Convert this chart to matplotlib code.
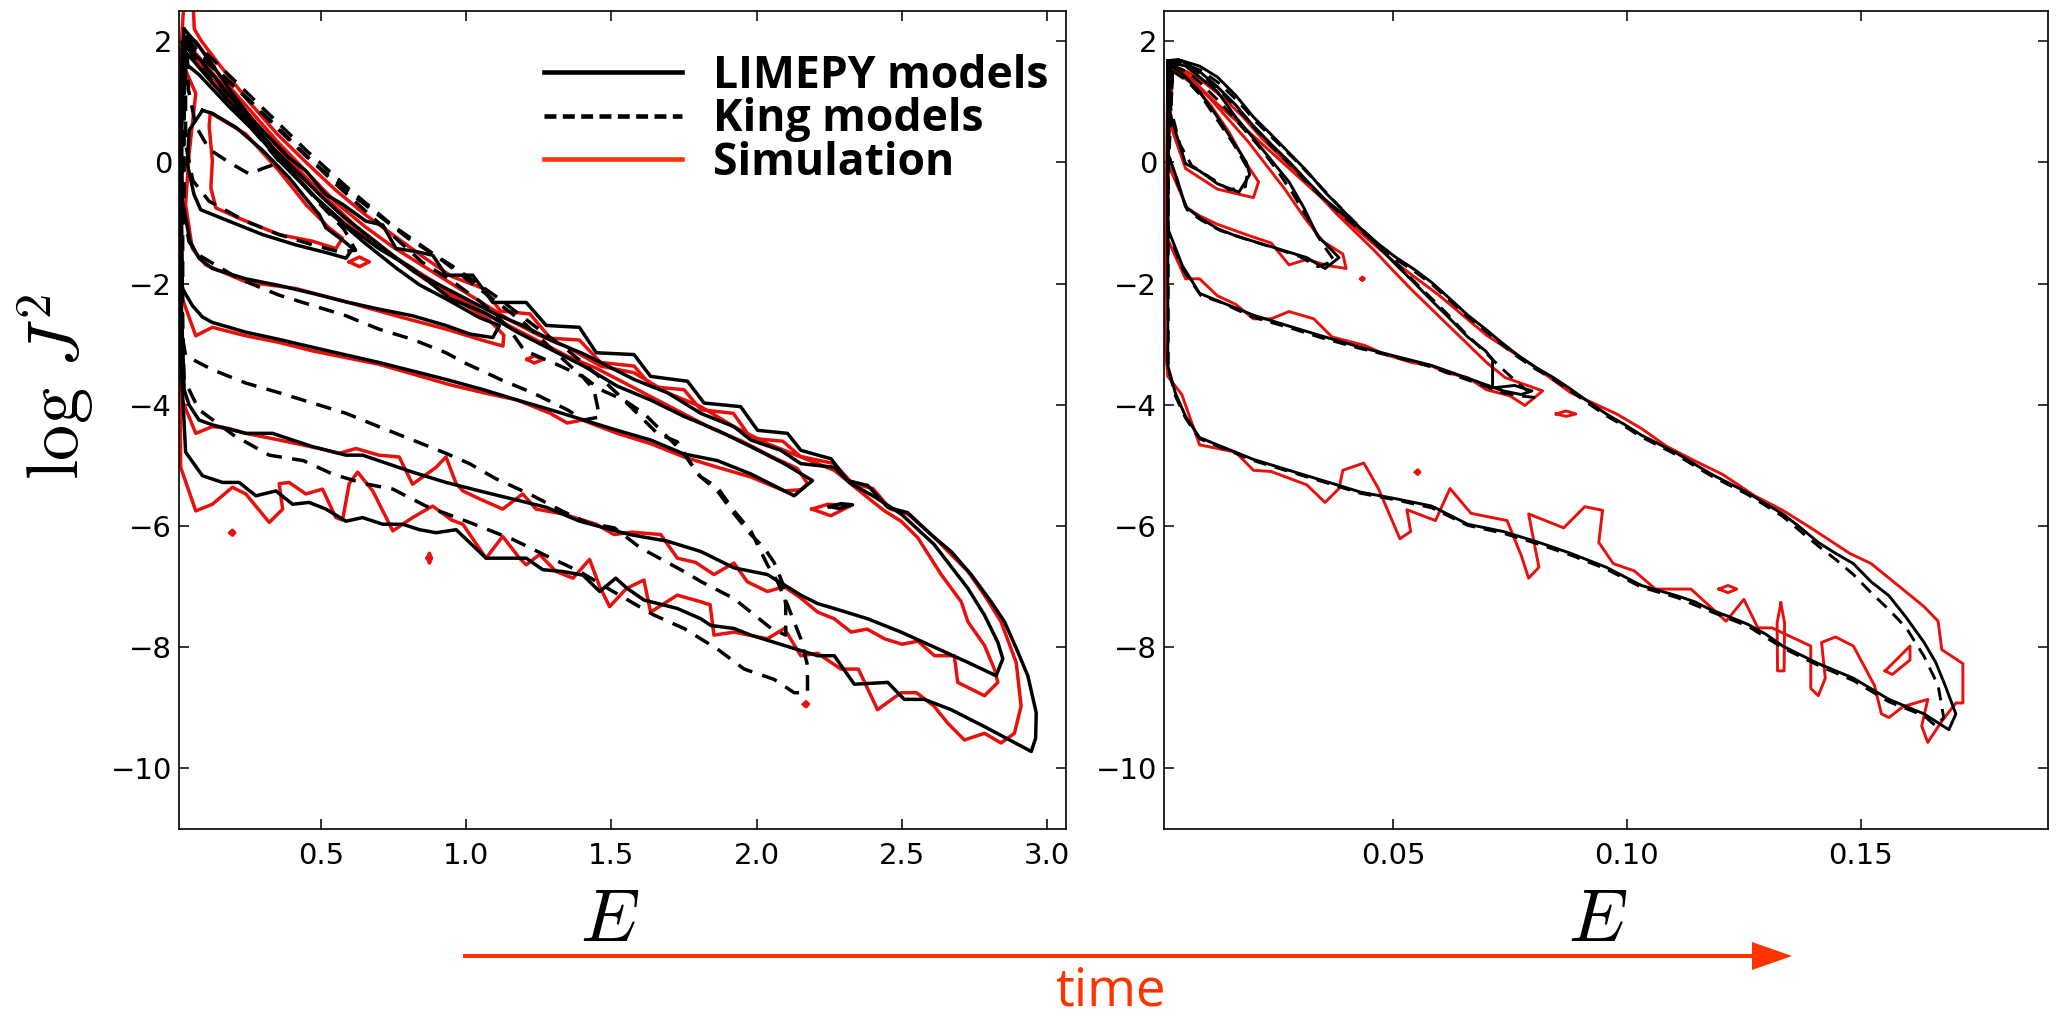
import matplotlib
matplotlib.use("Agg")
import matplotlib.pyplot as plt
from matplotlib.lines import Line2D
from matplotlib.patches import FancyArrow
from matplotlib.font_manager import FontProperties

plt.rcParams['mathtext.fontset'] = 'cm'
plt.rcParams['font.family'] = 'DejaVu Sans'

# === LEFT PANEL (early time) : contours in (E, log J^2) ===

# LIMEPY models (black solid), innermost to outermost
lim_l1 = [(0.093, 0.86), (0.127, 0.81), (0.208, 0.58), (0.30, 0.20), (0.391, -0.25), (0.45, -0.60),
          (0.495, -0.86), (0.518, -1.08), (0.58, -1.30), (0.61, -1.42), (0.587, -1.58), (0.529, -1.50),
          (0.414, -1.36), (0.30, -1.19), (0.185, -0.97), (0.087, -0.78), (0.064, -0.53), (0.041, -0.03),
          (0.047, 0.53), (0.093, 0.86)]
lim_l2 = [(0.03, 1.65), (0.081, 1.45), (0.185, 0.92), (0.30, 0.38), (0.414, -0.22), (0.529, -0.82),
          (0.644, -1.30), (0.759, -1.74), (0.84, -2.02), (0.931, -2.25), (1.046, -2.56), (1.115, -2.69),
          (1.092, -2.89), (1.012, -2.83), (0.931, -2.69), (0.816, -2.53), (0.70, -2.42), (0.587, -2.30),
          (0.472, -2.16), (0.357, -2.03), (0.242, -1.92), (0.127, -1.75), (0.081, -1.58), (0.05, -1.30),
          (0.024, -0.64), (0.02, 0.50), (0.03, 1.65)]
lim_l3 = [(0.024, 1.86), (0.058, 1.70), (0.127, 1.31), (0.242, 0.70), (0.357, 0.03), (0.472, -0.53),
          (0.587, -1.03), (0.70, -1.42), (0.816, -1.75), (0.946, -2.25), (1.06, -2.47), (1.176, -2.80),
          (1.29, -3.08), (1.405, -3.36), (1.52, -3.69), (1.635, -3.92), (1.75, -4.19), (1.865, -4.42),
          (1.98, -4.69), (2.095, -4.97), (2.192, -5.25), (2.129, -5.50), (1.98, -5.14), (1.865, -4.92),
          (1.75, -4.81), (1.635, -4.58), (1.52, -4.42), (1.405, -4.25), (1.29, -4.08), (1.176, -3.92),
          (1.06, -3.75), (0.931, -3.58), (0.70, -3.30), (0.472, -3.05), (0.357, -2.92), (0.242, -2.80),
          (0.127, -2.64), (0.093, -2.55), (0.058, -2.36), (0.024, -2.08), (0.018, 0.0), (0.024, 1.86)]
lim_l4 = [(0.024, 1.98), (0.08, 1.72), (0.14, 1.38), (0.20, 1.02), (0.27, 0.62), (0.34, 0.22),
          (0.42, -0.16), (0.50, -0.55), (0.58, -0.90), (0.66, -1.20), (0.74, -1.50), (0.82, -1.80),
          (0.90, -2.00), (1.00, -2.25), (1.10, -2.50), (1.20, -2.70), (1.30, -2.95), (1.40, -3.15),
          (1.463, -3.30), (1.578, -3.58), (1.693, -3.80), (1.808, -4.14), (1.922, -4.36), (1.98, -4.58),
          (2.083, -4.75), (2.152, -4.97), (2.267, -5.03), (2.324, -5.30), (2.40, -5.50), (2.497, -5.80),
          (2.61, -6.30), (2.727, -7.03), (2.784, -7.47), (2.83, -7.92), (2.847, -8.19), (2.824, -8.47),
          (2.727, -8.25), (2.612, -8.00), (2.497, -7.75), (2.382, -7.53), (2.267, -7.36), (2.21, -7.28),
          (2.152, -7.14), (2.037, -6.80), (1.922, -6.69), (1.808, -6.42), (1.693, -6.25), (1.563, -6.14),
          (1.391, -5.92), (1.276, -5.69), (1.161, -5.555), (1.046, -5.42), (0.931, -5.28), (0.816, -5.11),
          (0.644, -4.83), (0.587, -4.83), (0.472, -4.69), (0.334, -4.47), (0.242, -4.47), (0.127, -4.33),
          (0.081, -4.25), (0.047, -4.00), (0.03, -3.75), (0.018, -2.0), (0.024, 1.98)]
lim_l5 = [(0.03, 2.20), (0.081, 1.92), (0.139, 1.53), (0.196, 1.14), (0.265, 0.70), (0.334, 0.36),
          (0.39, 0.08), (0.449, -0.14), (0.518, -0.53), (0.575, -0.69), (0.656, -0.97), (0.713, -1.03),
          (0.759, -1.42), (0.828, -1.47), (0.885, -1.53), (0.931, -1.86), (1.023, -1.86), (1.092, -2.31),
          (1.207, -2.31), (1.276, -2.69), (1.39, -2.72), (1.448, -3.14), (1.578, -3.17), (1.635, -3.53),
          (1.762, -3.61), (1.819, -3.97), (1.945, -4.03), (2.003, -4.42), (2.106, -4.47), (2.152, -4.75),
          (2.256, -4.89), (2.313, -5.25), (2.382, -5.33), (2.451, -5.69), (2.52, -5.78), (2.60, -6.14),
          (2.669, -6.42), (2.738, -6.80), (2.807, -7.25), (2.853, -7.58), (2.899, -8.08), (2.933, -8.47),
          (2.962, -9.08), (2.96, -9.50), (2.945, -9.72), (2.784, -9.31), (2.669, -9.03), (2.577, -8.86),
          (2.508, -8.86), (2.451, -8.58), (2.336, -8.61), (2.267, -8.14), (2.21, -8.14), (2.095, -7.97),
          (1.98, -7.80), (1.922, -7.69), (1.842, -7.64), (1.808, -7.53), (1.727, -7.36), (1.612, -7.22),
          (1.555, -7.03), (1.515, -6.86), (1.46, -7.08), (1.402, -6.81), (1.333, -6.75), (1.264, -6.72),
          (1.207, -6.53), (1.069, -6.53), (0.966, -6.06), (0.897, -6.11), (0.84, -6.06), (0.782, -5.97),
          (0.713, -5.97), (0.644, -5.86), (0.587, -5.92), (0.518, -5.72), (0.46, -5.61), (0.403, -5.64),
          (0.346, -5.42), (0.277, -5.50), (0.219, -5.28), (0.162, -5.28), (0.093, -5.17), (0.035, -4.78),
          (0.016, -3.0), (0.016, 1.0), (0.03, 2.20)]
lim_dot = [(2.25, -5.68), (2.29, -5.63), (2.33, -5.65), (2.285, -5.71), (2.25, -5.68)]

# King models (black dashed)
king_l1 = [(0.04, 1.90), (0.10, 1.50), (0.20, 0.90), (0.30, 0.35), (0.36, 0.0), (0.30, -0.10),
           (0.254, -0.19), (0.185, 0.0), (0.116, 0.22), (0.07, 0.60), (0.045, 1.20), (0.04, 1.90)]
king_l2 = [(0.035, 1.95), (0.10, 1.60), (0.20, 1.00), (0.30, 0.45), (0.40, -0.15), (0.50, -0.70),
           (0.58, -1.10), (0.62, -1.45), (0.56, -1.47), (0.472, -1.36), (0.357, -1.19), (0.242, -0.97),
           (0.116, -0.64), (0.06, -0.30), (0.035, 0.30), (0.035, 1.95)]
king_l3 = [(0.03, 2.00), (0.12, 1.60), (0.25, 1.05), (0.40, 0.35), (0.55, -0.35), (0.70, -1.00),
           (0.85, -1.65), (0.95, -1.95), (1.05, -2.30), (1.14, -2.69), (1.20, -3.10), (1.325, -3.36),
           (1.40, -3.53), (1.44, -3.75), (1.46, -4.20), (1.405, -4.25), (1.348, -4.08), (1.233, -3.81),
           (1.118, -3.58), (0.992, -3.30), (0.931, -3.14), (0.816, -2.92), (0.70, -2.75), (0.587, -2.53),
           (0.472, -2.36), (0.357, -2.19), (0.219, -1.92), (0.081, -1.53), (0.047, -1.31), (0.03, -0.90),
           (0.03, 2.00)]
king_l4 = [(0.035, 2.05), (0.15, 1.50), (0.30, 0.80), (0.45, 0.10), (0.60, -0.50), (0.80, -1.25),
           (0.95, -1.70), (1.10, -2.20), (1.25, -2.75), (1.35, -3.10), (1.45, -3.50), (1.52, -3.81),
           (1.589, -4.14), (1.658, -4.47), (1.727, -4.61), (1.796, -5.14), (1.865, -5.42), (1.923, -5.80),
           (1.98, -6.14), (2.026, -6.36), (2.06, -6.60), (2.09, -6.95), (2.10, -7.30), (2.10, -7.80),
           (2.05, -7.69), (1.98, -7.42), (1.92, -7.19), (1.81, -6.92), (1.75, -6.75), (1.60, -6.36),
           (1.51, -6.03), (1.42, -5.95), (1.33, -5.75), (1.218, -5.47), (1.103, -5.22), (1.012, -4.97),
           (0.931, -4.80), (0.816, -4.58), (0.70, -4.36), (0.587, -4.14), (0.472, -3.97), (0.357, -3.80),
           (0.242, -3.64), (0.127, -3.42), (0.035, -3.19), (0.025, -2.90), (0.025, 0.0), (0.035, 2.05)]
king_l5 = [(0.04, 2.10), (0.15, 1.60), (0.30, 0.90), (0.45, 0.20), (0.60, -0.45), (0.75, -1.05),
           (0.90, -1.55), (1.05, -2.10), (1.20, -2.65), (1.30, -3.10), (1.38, -3.45), (1.463, -3.75),
           (1.543, -3.92), (1.612, -4.14), (1.693, -4.53), (1.74, -4.75), (1.808, -5.19), (1.865, -5.36),
           (1.922, -5.75), (1.98, -6.08), (2.037, -6.64), (2.072, -6.92), (2.106, -7.30), (2.152, -7.86),
           (2.175, -8.30), (2.175, -8.75), (2.129, -8.75), (2.06, -8.53), (1.957, -8.36), (1.865, -8.03),
           (1.75, -7.69), (1.647, -7.47), (1.506, -7.08), (1.391, -6.75), (1.28, -6.50), (1.161, -6.22),
           (1.012, -5.94), (0.862, -5.67), (0.748, -5.39), (0.65, -5.30), (0.54, -5.14), (0.44, -4.92),
           (0.323, -4.83), (0.20, -4.50), (0.081, -4.08), (0.047, -3.75), (0.03, -3.60), (0.02, -2.0),
           (0.02, 0.0), (0.04, 2.10)]

# Simulation (red)
sim_l1 = [(0.12, 0.82), (0.242, 0.47), (0.357, -0.14), (0.45, -0.70), (0.529, -1.08), (0.575, -1.25),
          (0.552, -1.42), (0.472, -1.30), (0.357, -1.19), (0.219, -0.92), (0.139, -0.75), (0.122, -0.42),
          (0.127, 0.03), (0.116, 0.60), (0.12, 0.82)]
sim_l2 = [(0.03, 1.95), (0.07, 1.80), (0.15, 1.35), (0.26, 0.75), (0.38, 0.10), (0.50, -0.50),
          (0.62, -1.05), (0.75, -1.55), (0.85, -1.90), (0.98, -2.30), (1.08, -2.60), (1.13, -2.85),
          (1.127, -3.03), (1.046, -2.92), (0.931, -2.75), (0.759, -2.53), (0.587, -2.30), (0.414, -2.08),
          (0.242, -1.97), (0.104, -1.69), (0.058, -1.42), (0.035, -0.69), (0.047, 0.14), (0.07, 1.14),
          (0.024, 1.64), (0.03, 1.95)]
sim_l3 = [(0.024, 1.80), (0.06, 1.75), (0.13, 1.35), (0.25, 0.70), (0.36, 0.10), (0.48, -0.45),
          (0.60, -1.00), (0.72, -1.45), (0.85, -1.85), (0.95, -2.15), (1.05, -2.45), (1.15, -2.70),
          (1.25, -2.95), (1.35, -3.20), (1.45, -3.40), (1.55, -3.65), (1.65, -3.90), (1.75, -4.15),
          (1.85, -4.40), (1.95, -4.60), (2.05, -4.85), (2.14, -5.05), (2.175, -5.30), (2.152, -5.40),
          (2.095, -5.42), (1.98, -5.19), (1.865, -5.03), (1.75, -4.86), (1.635, -4.64), (1.52, -4.47),
          (1.40, -4.25), (1.348, -4.30), (1.29, -4.14), (1.176, -3.92), (1.06, -3.80), (0.946, -3.67),
          (0.70, -3.33), (0.472, -3.11), (0.357, -2.97), (0.242, -2.86), (0.127, -2.72), (0.07, -2.86),
          (0.024, -2.25), (0.018, 0.0), (0.024, 1.80)]
sim_l4 = [(0.03, 2.05), (0.07, 2.00), (0.15, 1.45), (0.25, 0.90), (0.35, 0.35), (0.45, -0.15),
          (0.55, -0.65), (0.65, -1.05), (0.75, -1.40), (0.85, -1.70), (0.95, -2.00), (1.05, -2.30),
          (1.15, -2.60), (1.25, -2.85), (1.35, -3.05), (1.463, -3.36), (1.578, -3.47), (1.693, -3.80),
          (1.808, -4.03), (1.922, -4.36), (2.037, -4.64), (2.152, -4.86), (2.267, -5.08), (2.382, -5.53),
          (2.44, -5.75), (2.497, -5.92), (2.554, -6.19), (2.635, -6.80), (2.704, -7.25), (2.727, -7.58),
          (2.784, -7.97), (2.818, -8.36), (2.83, -8.58), (2.784, -8.80), (2.692, -8.58), (2.68, -8.14),
          (2.612, -8.14), (2.555, -7.90), (2.50, -7.95), (2.44, -7.86), (2.38, -7.70), (2.325, -7.75),
          (2.267, -7.53), (2.21, -7.42), (2.152, -7.19), (2.095, -7.00), (2.037, -7.08), (1.968, -6.92),
          (1.922, -6.61), (1.853, -6.80), (1.79, -6.60), (1.727, -6.53), (1.67, -6.14), (1.57, -6.10),
          (1.509, -6.14), (1.448, -5.97), (1.333, -5.80), (1.241, -5.72), (1.195, -5.47), (1.126, -5.72),
          (1.046, -5.55), (0.989, -5.42), (0.966, -5.30), (0.931, -4.86), (0.897, -5.03), (0.816, -5.31),
          (0.77, -4.86), (0.70, -4.83), (0.621, -4.72), (0.564, -4.80), (0.495, -4.72), (0.357, -4.58),
          (0.242, -4.47), (0.185, -4.39), (0.127, -4.36), (0.07, -4.47), (0.018, -3.86), (0.016, 0.0),
          (0.03, 2.05)]
sim_l5 = [(0.06, 2.70), (0.065, 2.20), (0.09, 2.00), (0.15, 1.62), (0.25, 1.02), (0.35, 0.47),
          (0.45, 0.00), (0.55, -0.45), (0.65, -0.85), (0.75, -1.20), (0.85, -1.55), (0.95, -1.88),
          (1.06, -2.08), (1.118, -2.45), (1.22, -2.50), (1.29, -2.90), (1.39, -2.93), (1.463, -3.30),
          (1.578, -3.36), (1.64, -3.70), (1.75, -3.75), (1.808, -4.08), (1.92, -4.14), (1.98, -4.55),
          (2.09, -4.60), (2.15, -4.85), (2.267, -4.97), (2.33, -5.30), (2.40, -5.38), (2.46, -5.72),
          (2.52, -5.80), (2.612, -6.19), (2.727, -6.75), (2.784, -7.14), (2.841, -7.58), (2.893, -8.25),
          (2.91, -8.97), (2.887, -9.42), (2.841, -9.58), (2.784, -9.42), (2.715, -9.53), (2.657, -9.25),
          (2.61, -8.97), (2.55, -8.75), (2.497, -8.75), (2.416, -9.03), (2.35, -8.36), (2.29, -8.36),
          (2.21, -8.10), (2.152, -8.14), (2.095, -7.69), (2.037, -7.86), (1.922, -7.75), (1.853, -7.80),
          (1.84, -7.30), (1.808, -7.25), (1.727, -7.14), (1.635, -7.42), (1.612, -6.89), (1.552, -7.03),
          (1.494, -7.33), (1.46, -7.00), (1.425, -6.55), (1.368, -6.86), (1.31, -6.75), (1.253, -6.47),
          (1.207, -6.64), (1.184, -6.53), (1.126, -6.17), (1.069, -6.53), (0.989, -5.97), (0.95, -5.90),
          (0.885, -5.67), (0.816, -5.86), (0.748, -6.08), (0.679, -5.42), (0.627, -5.11), (0.598, -5.30),
          (0.575, -5.90), (0.552, -5.86), (0.506, -5.39), (0.449, -5.47), (0.391, -5.28), (0.357, -5.30),
          (0.369, -5.72), (0.323, -5.94), (0.242, -5.47), (0.196, -5.36), (0.127, -5.64), (0.07, -5.75),
          (0.018, -5.03), (0.014, -2.0), (0.014, 1.5), (0.03, 2.70)]
sim_dot_a = [(0.598, -1.64), (0.633, -1.56), (0.667, -1.64), (0.633, -1.72), (0.598, -1.64)]
sim_dot_b = [(1.21, -3.25), (1.235, -3.19), (1.265, -3.25), (1.235, -3.31), (1.21, -3.25)]
sim_dot_c = [(2.19, -5.72), (2.245, -5.64), (2.325, -5.66), (2.255, -5.83), (2.19, -5.72)]
sim_dot_d = [(0.188, -6.11), (0.196, -6.07), (0.204, -6.11), (0.196, -6.15), (0.188, -6.11)]
sim_dot_e = [(0.867, -6.53), (0.874, -6.45), (0.881, -6.53), (0.874, -6.61), (0.867, -6.53)]
sim_dot_f = [(2.162, -8.94), (2.17, -8.90), (2.178, -8.94), (2.17, -8.98), (2.162, -8.94)]

# === RIGHT PANEL (late time) ===
lim_r1 = [(0.0026, 1.59), (0.0049, 1.47), (0.0087, 1.17), (0.0125, 0.75), (0.0164, 0.28), (0.0187, 0.0),
          (0.0194, -0.20), (0.0171, -0.49), (0.0125, -0.35), (0.0087, -0.14), (0.0057, -0.02),
          (0.004, 0.40), (0.0019, 0.93), (0.0026, 1.59)]
lim_r2 = [(0.0026, 1.65), (0.0057, 1.59), (0.0087, 1.41), (0.0125, 1.17), (0.0164, 0.75), (0.0202, 0.40),
          (0.024, 0.04), (0.0278, -0.32), (0.031, -0.75), (0.0339, -1.21), (0.0385, -1.57), (0.0355, -1.75),
          (0.0316, -1.57), (0.024, -1.39), (0.0164, -1.21), (0.0125, -1.09), (0.0087, -0.91),
          (0.0057, -0.73), (0.004, -0.30), (0.0019, 0.16), (0.0026, 1.65)]
lim_r3 = [(0.0019, 1.65), (0.0049, 1.68), (0.0087, 1.59), (0.0125, 1.41), (0.0164, 1.11), (0.0202, 0.75),
          (0.024, 0.46), (0.0278, 0.16), (0.0316, -0.14), (0.0355, -0.49), (0.0393, -0.79), (0.0431, -1.09),
          (0.0469, -1.39), (0.0507, -1.69), (0.0545, -1.98), (0.0583, -2.28), (0.0622, -2.58),
          (0.066, -2.88), (0.0698, -3.11), (0.0713, -3.25), (0.0713, -3.72), (0.076, -3.68),
          (0.0797, -3.77), (0.0774, -3.83), (0.0736, -3.77), (0.066, -3.56), (0.0583, -3.35),
          (0.0507, -3.20), (0.0431, -3.05), (0.0355, -2.88), (0.0278, -2.70), (0.0202, -2.52),
          (0.0125, -2.28), (0.0087, -2.16), (0.005, -1.70), (0.0019, -1.09), (0.0019, 1.65)]
lim_r4 = [(0.0019, 1.68), (0.0042, 1.70), (0.0087, 1.50), (0.0125, 1.25), (0.0164, 0.95), (0.020, 0.62),
          (0.024, 0.30), (0.028, 0.0), (0.0316, -0.30), (0.0355, -0.61), (0.0393, -0.85), (0.0431, -1.09),
          (0.047, -1.35), (0.0507, -1.57), (0.0545, -1.76), (0.0583, -1.98), (0.0622, -2.25),
          (0.066, -2.52), (0.0698, -2.75), (0.0729, -2.95), (0.0767, -3.18), (0.0805, -3.38),
          (0.0843, -3.55), (0.088, -3.74), (0.0918, -3.95), (0.0956, -4.15), (0.0994, -4.32),
          (0.1031, -4.50), (0.1069, -4.65), (0.1107, -4.80), (0.1145, -4.98), (0.1182, -5.15),
          (0.122, -5.30), (0.1258, -5.45), (0.1296, -5.63), (0.1333, -5.80), (0.137, -6.02),
          (0.1409, -6.27), (0.1446, -6.45), (0.1484, -6.62), (0.1522, -6.92), (0.156, -7.15),
          (0.1597, -7.51), (0.1635, -7.92), (0.166, -8.25), (0.168, -8.63), (0.1703, -9.10),
          (0.1688, -9.36), (0.1635, -9.10), (0.156, -8.86), (0.1484, -8.51), (0.1409, -8.27),
          (0.1333, -7.98), (0.1296, -7.78), (0.1258, -7.62), (0.122, -7.50), (0.1182, -7.39),
          (0.1145, -7.25), (0.1107, -7.15), (0.1031, -6.98), (0.0956, -6.68), (0.088, -6.45),
          (0.0812, -6.27), (0.0736, -6.09), (0.066, -5.97), (0.0583, -5.67), (0.0507, -5.55),
          (0.0431, -5.44), (0.0355, -5.26), (0.0278, -5.08), (0.0202, -4.90), (0.0125, -4.66),
          (0.0087, -4.54), (0.0057, -4.19), (0.0035, -3.80), (0.0019, -3.35), (0.0019, 1.68)]

king_r1 = [(0.003, 1.50), (0.006, 1.35), (0.009, 1.10), (0.0125, 0.70), (0.016, 0.30), (0.019, -0.10),
           (0.0185, -0.40), (0.015, -0.45), (0.011, -0.25), (0.007, -0.05), (0.0045, 0.30), (0.0025, 0.90),
           (0.003, 1.50)]
king_r2 = [(0.003, 1.60), (0.006, 1.50), (0.009, 1.30), (0.013, 1.00), (0.017, 0.65), (0.021, 0.30),
           (0.025, -0.10), (0.0285, -0.50), (0.032, -0.95), (0.035, -1.35), (0.0375, -1.62), (0.034, -1.72),
           (0.030, -1.55), (0.025, -1.42), (0.018, -1.25), (0.013, -1.12), (0.009, -0.95), (0.006, -0.78),
           (0.004, -0.35), (0.0022, 0.10), (0.003, 1.60)]
king_r3 = [(0.002, 1.60), (0.005, 1.63), (0.009, 1.52), (0.013, 1.30), (0.017, 1.00), (0.021, 0.65),
           (0.025, 0.35), (0.029, 0.05), (0.033, -0.27), (0.037, -0.60), (0.041, -0.92), (0.045, -1.22),
           (0.049, -1.52), (0.053, -1.84), (0.057, -2.15), (0.061, -2.45), (0.065, -2.78), (0.069, -3.08),
           (0.073, -3.38), (0.077, -3.66), (0.0805, -3.88), (0.077, -3.85), (0.0736, -3.80), (0.066, -3.59),
           (0.058, -3.37), (0.050, -3.20), (0.043, -3.07), (0.035, -2.90), (0.028, -2.73), (0.020, -2.55),
           (0.013, -2.30), (0.009, -2.20), (0.005, -1.75), (0.002, -1.15), (0.002, 1.60)]
king_r4 = [(0.002, 1.66), (0.005, 1.66), (0.009, 1.46), (0.0125, 1.22), (0.0164, 0.92), (0.020, 0.60),
           (0.024, 0.27), (0.028, -0.03), (0.0316, -0.33), (0.0355, -0.63), (0.0393, -0.88), (0.0431, -1.12),
           (0.047, -1.37), (0.0507, -1.60), (0.0545, -1.79), (0.0583, -2.01), (0.0622, -2.28),
           (0.066, -2.55), (0.0698, -2.78), (0.0729, -2.98), (0.0767, -3.21), (0.0805, -3.41),
           (0.0843, -3.58), (0.088, -3.77), (0.0918, -3.98), (0.0956, -4.18), (0.0994, -4.35),
           (0.1031, -4.53), (0.1069, -4.68), (0.1107, -4.83), (0.1145, -5.01), (0.1182, -5.18),
           (0.122, -5.33), (0.1258, -5.48), (0.1296, -5.66), (0.1333, -5.84), (0.137, -6.08),
           (0.1409, -6.33), (0.1446, -6.55), (0.1484, -6.80), (0.1522, -7.10), (0.156, -7.38),
           (0.1597, -7.68), (0.1635, -8.15), (0.1665, -8.63), (0.1677, -9.16), (0.166, -9.30),
           (0.1635, -9.13), (0.156, -8.90), (0.1484, -8.55), (0.1409, -8.30), (0.1333, -8.01),
           (0.1258, -7.65), (0.1182, -7.42), (0.1107, -7.18), (0.1031, -7.01), (0.0956, -6.71),
           (0.088, -6.48), (0.0812, -6.30), (0.0736, -6.12), (0.066, -5.99), (0.0583, -5.70),
           (0.0507, -5.57), (0.0431, -5.46), (0.0355, -5.28), (0.0278, -5.10), (0.0202, -4.92),
           (0.0125, -4.68), (0.0087, -4.56), (0.0057, -4.22), (0.0035, -3.85), (0.002, -3.40), (0.002, 1.66)]

sim_r1 = [(0.003, 1.55), (0.007, 1.30), (0.011, 0.95), (0.015, 0.50), (0.0187, -0.02), (0.0213, -0.32),
          (0.0202, -0.58), (0.0125, -0.44), (0.0057, -0.10), (0.003, 0.50), (0.0019, 0.93), (0.003, 1.55)]
sim_r2 = [(0.003, 1.55), (0.007, 1.35), (0.011, 1.05), (0.015, 0.70), (0.019, 0.35), (0.023, -0.05),
          (0.027, -0.45), (0.031, -0.90), (0.035, -1.30), (0.0393, -1.51), (0.040, -1.75), (0.036, -1.70),
          (0.0316, -1.60), (0.0278, -1.69), (0.024, -1.33), (0.019, -1.20), (0.0125, -1.02),
          (0.0087, -0.88), (0.006, -0.75), (0.0035, -0.30), (0.0019, -0.02), (0.003, 1.55)]
sim_r3 = [(0.002, 1.55), (0.006, 1.50), (0.010, 1.30), (0.014, 1.05), (0.018, 0.75), (0.022, 0.40),
          (0.026, 0.10), (0.030, -0.20), (0.034, -0.52), (0.038, -0.85), (0.042, -1.15), (0.046, -1.45),
          (0.050, -1.78), (0.054, -2.10), (0.058, -2.40), (0.062, -2.70), (0.066, -3.00), (0.070, -3.30),
          (0.074, -3.55), (0.082, -3.77), (0.0782, -4.01), (0.075, -3.85), (0.070, -3.75), (0.066, -3.55),
          (0.0614, -3.47), (0.058, -3.35), (0.054, -3.30), (0.0484, -3.17), (0.044, -3.02), (0.037, -2.88),
          (0.0331, -2.58), (0.0278, -2.46), (0.024, -2.58), (0.0202, -2.58), (0.0164, -2.34),
          (0.0125, -2.20), (0.0087, -1.92), (0.0057, -1.92), (0.0019, -1.27), (0.002, 1.55)]
sim_r4 = [(0.0019, 1.60), (0.006, 1.45), (0.012, 1.00), (0.020, 0.45), (0.030, -0.25), (0.040, -0.95),
          (0.050, -1.62), (0.060, -2.20), (0.070, -2.85), (0.0805, -3.38), (0.088, -3.80), (0.0978, -4.15),
          (0.1031, -4.39), (0.1084, -4.68), (0.1144, -4.92), (0.1205, -5.15), (0.1273, -5.50),
          (0.1333, -5.74), (0.1393, -6.03), (0.1476, -6.45), (0.1522, -6.62), (0.1597, -7.09),
          (0.1635, -7.33), (0.1665, -7.57), (0.1673, -8.04), (0.1718, -8.27), (0.1718, -8.92),
          (0.1703, -8.92), (0.1673, -9.22), (0.1643, -9.57), (0.163, -9.30), (0.1643, -8.86),
          (0.159, -8.98), (0.156, -9.16), (0.1544, -9.10), (0.1529, -8.63), (0.1484, -7.98),
          (0.1446, -7.83), (0.1416, -7.92), (0.1424, -8.51), (0.1409, -8.80), (0.1393, -8.68),
          (0.1393, -7.98), (0.131, -7.68), (0.128, -7.68), (0.125, -7.21), (0.1212, -7.57),
          (0.1137, -7.04), (0.1061, -7.04), (0.1016, -6.74), (0.0971, -6.62), (0.094, -6.27),
          (0.0948, -5.74), (0.091, -5.68), (0.0865, -6.03), (0.079, -5.80), (0.0812, -6.68),
          (0.079, -6.86), (0.0775, -6.50), (0.0744, -5.91), (0.0667, -5.79), (0.0622, -5.38),
          (0.0591, -5.91), (0.053, -5.73), (0.0538, -6.09), (0.0515, -6.21), (0.0469, -5.38),
          (0.0438, -4.96), (0.0393, -5.08), (0.0385, -5.38), (0.0355, -5.61), (0.0316, -5.32),
          (0.024, -5.10), (0.0202, -5.08), (0.0164, -4.78), (0.0087, -4.66), (0.0049, -3.83),
          (0.0019, -3.53), (0.0012, -2.90), (0.0019, 1.60)]
sim_r_dot_a = [(0.0548, -5.11), (0.0553, -5.07), (0.0558, -5.11), (0.0553, -5.15), (0.0548, -5.11)]
sim_r_dot_b = [(0.0431, -1.92), (0.0435, -1.89), (0.0439, -1.92), (0.0435, -1.95), (0.0431, -1.92)]
sim_r_dot_c = [(0.0849, -4.15), (0.087, -4.10), (0.0891, -4.15), (0.087, -4.19), (0.0849, -4.15)]
sim_r_dot_d = [(0.1197, -7.04), (0.1216, -6.98), (0.1235, -7.04), (0.1216, -7.10), (0.1197, -7.04)]
sim_r_loop_e = [(0.1552, -8.39), (0.1605, -7.98), (0.1605, -8.21), (0.1567, -8.45), (0.1552, -8.39)]
sim_r_loop_f = [(0.1329, -7.27), (0.1337, -7.60), (0.1336, -8.39), (0.1322, -8.39), (0.1321, -7.60),
                (0.1329, -7.27)]

left_sim = [sim_l1, sim_l2, sim_l3, sim_l4, sim_l5, sim_dot_a, sim_dot_b, sim_dot_c, sim_dot_d,
            sim_dot_e, sim_dot_f]
left_king = [king_l1, king_l2, king_l3, king_l4, king_l5]
left_lim = [lim_l1, lim_l2, lim_l3, lim_l4, lim_l5, lim_dot]
right_sim = [sim_r1, sim_r2, sim_r3, sim_r4, sim_r_dot_a, sim_r_dot_b, sim_r_dot_c, sim_r_dot_d,
             sim_r_loop_e, sim_r_loop_f]
right_king = [king_r1, king_r2, king_r3, king_r4]
right_lim = [lim_r1, lim_r2, lim_r3, lim_r4]

left_xticks = [0.5, 1.0, 1.5, 2.0, 2.5, 3.0]
right_xticks = [0.05, 0.10, 0.15]
right_xticklabels = ['0.05', '0.10', '0.15']
yticks = [-10, -8, -6, -4, -2, 0, 2]

RED = '#e8100c'
ORANGE = '#ff3300'


def draw(ax, contours, **kw):
    for c in contours:
        e, j = zip(*c)
        ax.plot(e, j, **kw)


fig = plt.figure(figsize=(20.65, 10.16), dpi=100)
ax1 = fig.add_axes([0.0867, 0.184, 0.4296, 0.8052])
ax2 = fig.add_axes([0.5637, 0.184, 0.4281, 0.8052])

lw = 2.5
draw(ax1, left_sim, color=RED, lw=lw)
draw(ax1, left_king, color='k', lw=lw, ls=(0, (4.5, 3)))
draw(ax1, left_lim, color='k', lw=lw)

lw2 = 2.1
draw(ax2, right_sim, color=RED, lw=lw2)
draw(ax2, right_king, color='k', lw=lw2, ls=(0, (4.5, 3)))
draw(ax2, right_lim, color='k', lw=lw2)

ax1.set_xlim(0.0124, 3.065)
ax2.set_xlim(0.0011, 0.190)
for ax in (ax1, ax2):
    ax.set_ylim(-11, 2.5)
    ax.set_yticks(yticks)
    ax.tick_params(direction='in', top=True, right=True, length=7, width=1.1,
                   labelsize=21, pad=9)
    ax.tick_params(axis='y', pad=5)
    for s in ax.spines.values():
        s.set_linewidth(1.2)
    ax.set_xlabel('$E$', fontsize=54)

ax1.set_xticks(left_xticks)
ax2.set_xticks(right_xticks)
ax2.set_xticklabels(right_xticklabels)
ax1.xaxis.set_label_coords(0.485, -0.067)
ax2.xaxis.set_label_coords(0.49, -0.067)

ax1.set_ylabel(r'$\log\,J^2$', fontsize=52)
ax1.yaxis.set_label_coords(-0.094, 0.54)

handles = [Line2D([], [], color='k', lw=3.3),
           Line2D([], [], color='k', lw=3.3, ls=(0, (2.6, 1.4))),
           Line2D([], [], color=ORANGE, lw=3.3)]
labels = ['LIMEPY models', 'King models', 'Simulation']
ax1.legend(handles, labels, loc='upper right', bbox_to_anchor=(0.98, 0.948), frameon=False,
           prop=FontProperties(family='Open Sans', weight='bold', size=32),
           handlelength=3.1, handletextpad=0.7, labelspacing=-0.03,
           borderpad=0, borderaxespad=0)

# time arrow below the panels
fig.add_artist(FancyArrow(4.63, 0.60, 13.29, 0, width=0.04, head_width=0.28, head_length=0.40,
                          length_includes_head=True, color=ORANGE, lw=0,
                          transform=fig.dpi_scale_trans))
fig.text(1110 / 2065, 1 - 992 / 1016, 'time', color=ORANGE, fontsize=38, family='Open Sans',
         ha='center', va='center')

fig.savefig('out.png', dpi=100)
